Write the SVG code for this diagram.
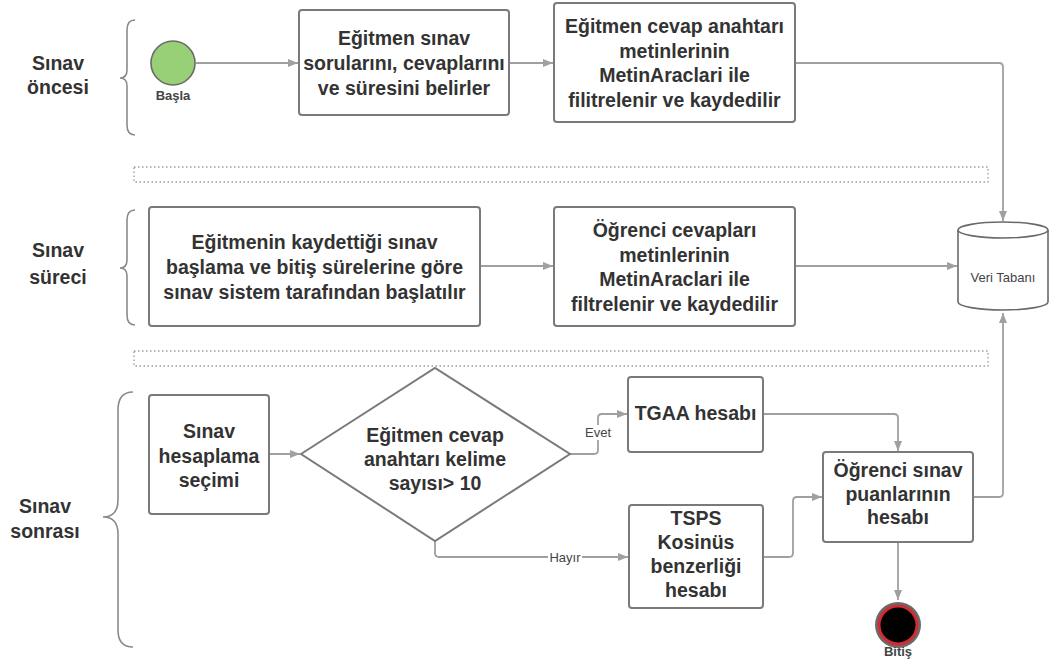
<svg xmlns="http://www.w3.org/2000/svg" width="1053" height="666" viewBox="0 0 1053 666">
  <style>
    .box { fill: #ffffff; stroke: #7a7a7a; stroke-width: 2; }
    .t { font-family: "Liberation Sans", Arial, sans-serif; font-weight: bold; font-size: 19.5px; fill: #333333; text-anchor: middle; }
    .lane { font-family: "Liberation Sans", Arial, sans-serif; font-weight: bold; font-size: 19.5px; fill: #333333; text-anchor: middle; }
    .small { font-family: "Liberation Sans", Arial, sans-serif; font-size: 13px; fill: #444444; text-anchor: middle; }
    .smallb { font-family: "Liberation Sans", Arial, sans-serif; font-weight: bold; font-size: 13px; fill: #444444; text-anchor: middle; }
    .brace { fill: none; stroke: #8a8a8a; stroke-width: 1.6; }
    .band { fill: none; stroke: #9a9a9a; stroke-width: 1.3; stroke-dasharray: 1.5 2.5; }
    .conn { fill: none; stroke: #a0a0a0; stroke-width: 1.8; stroke-linejoin: round; }
  </style>
  <defs>
    <marker id="arrow" viewBox="0 0 10 10" refX="10" refY="5" markerWidth="10" markerHeight="10" markerUnits="userSpaceOnUse" orient="auto">
      <path d="M0,1 L10,5 L0,9 Z" fill="#a0a0a0"/>
    </marker>
  </defs>

  <rect width="1053" height="666" fill="#ffffff"/>

  <!-- lane labels and braces -->
  <g id="lane-oncesi">
    <text class="lane" x="58" y="70">Sınav</text>
    <text class="lane" x="58" y="94">öncesi</text>
    <path class="brace" d="M135,20 Q127,20 127,30 L127,70 Q127,78 120,78 Q127,78 127,86 L127,125 Q127,135 135,135"/>
  </g>
  <g id="lane-sureci">
    <text class="lane" x="58" y="257">Sınav</text>
    <text class="lane" x="58" y="284">süreci</text>
    <path class="brace" d="M135,210 Q127,210 127,220 L127,260 Q127,268 120,268 Q127,268 127,276 L127,315 Q127,325 135,325"/>
  </g>
  <g id="lane-sonrasi">
    <text class="lane" x="45" y="513">Sınav</text>
    <text class="lane" x="45" y="538">sonrası</text>
    <path class="brace" d="M133,392 Q118,392 118,410 L118,500 Q118,517 103,517 Q118,517 118,534 L118,630 Q118,647 133,647"/>
  </g>

  <!-- dotted separators between lanes -->
  <rect class="band" x="134" y="167" width="854" height="15"/>
  <rect class="band" x="134" y="351" width="854" height="15"/>

  <!-- connectors -->
  <g id="connectors">
    <path class="conn" d="M196,63 L298,63" marker-end="url(#arrow)"/>
    <path class="conn" d="M509,63 L553,63" marker-end="url(#arrow)"/>
    <path class="conn" d="M795,63 L999,63 Q1003,63 1003,67 L1003,221" marker-end="url(#arrow)"/>
    <path class="conn" d="M480,266 L553,266" marker-end="url(#arrow)"/>
    <path class="conn" d="M795,266 L957,266" marker-end="url(#arrow)"/>
    <path class="conn" d="M252,454 L267,454" marker-end="url(#arrow)"/>
    <path class="conn" d="M267,454 L300,454" marker-end="url(#arrow)"/>
    <path class="conn" d="M570,454 L594,454 Q598,454 598,450 L598,418 Q598,414 602,414 L627,414" marker-end="url(#arrow)"/>
    <path class="conn" d="M435,541 L435,553 Q435,557 439,557 L628,557" marker-end="url(#arrow)"/>
    <path class="conn" d="M763,414 L894,414 Q898,414 898,418 L898,451" marker-end="url(#arrow)"/>
    <path class="conn" d="M763,557 L789,557 Q793,557 793,553 L793,501 Q793,497 797,497 L822,497" marker-end="url(#arrow)"/>
    <path class="conn" d="M973,497 L999,497 Q1003,497 1003,493 L1003,313" marker-end="url(#arrow)"/>
    <path class="conn" d="M898,542 L898,600" marker-end="url(#arrow)"/>
    <rect x="584" y="425" width="28" height="15" fill="#ffffff"/>
    <text class="small" x="598" y="437">Evet</text>
    <rect x="548" y="550" width="34" height="15" fill="#ffffff"/>
    <text class="small" x="565" y="561.5">Hayır</text>
  </g>

  <!-- nodes -->
  <g id="start">
    <circle cx="173" cy="63" r="22" fill="#97d077" stroke="#6a6a6a" stroke-width="1.6"/>
    <text class="smallb" x="173" y="100">Başla</text>
  </g>

  <g id="belirler">
    <rect class="box" x="299" y="10" width="210" height="105" rx="3"/>
    <text class="t" x="404" y="44.5">Eğitmen sınav</text>
    <text class="t" x="404" y="69.5">sorularını, cevaplarını</text>
    <text class="t" x="404" y="94.5">ve süresini belirler</text>
  </g>

  <g id="anahtar-kayit">
    <rect class="box" x="554" y="3" width="241" height="119" rx="3"/>
    <text class="t" x="674.5" y="33">Eğitmen cevap anahtarı</text>
    <text class="t" x="674.5" y="57.5">metinlerinin</text>
    <text class="t" x="674.5" y="82">MetinAraclari ile</text>
    <text class="t" x="674.5" y="106.5">filitrelenir ve kaydedilir</text>
  </g>

  <g id="sinav-baslat">
    <rect class="box" x="149" y="207" width="331" height="119" rx="3"/>
    <text class="t" x="314.5" y="248.5">Eğitmenin kaydettiği sınav</text>
    <text class="t" x="314.5" y="273.5">başlama ve bitiş sürelerine göre</text>
    <text class="t" x="314.5" y="298.5">sınav sistem tarafından başlatılır</text>
  </g>

  <g id="ogrenci-kayit">
    <rect class="box" x="554" y="207" width="241" height="119" rx="3"/>
    <text class="t" x="674.5" y="237">Öğrenci cevapları</text>
    <text class="t" x="674.5" y="261.5">metinlerinin</text>
    <text class="t" x="674.5" y="286">MetinAraclari ile</text>
    <text class="t" x="674.5" y="310.5">filtrelenir ve kaydedilir</text>
  </g>

  <g id="veri-tabani">
    <path d="M958,230 L958,302 A45,8 0 0 0 1048,302 L1048,230" fill="#ffffff" stroke="#6a6a6a" stroke-width="1.6"/>
    <ellipse cx="1003" cy="230" rx="45" ry="8" fill="#ffffff" stroke="#6a6a6a" stroke-width="1.6"/>
    <text class="small" x="1003" y="281.5">Veri Tabanı</text>
  </g>

  <g id="hesaplama-secimi">
    <rect class="box" x="149" y="395" width="120" height="119" rx="3"/>
    <text class="t" x="209" y="438">Sınav</text>
    <text class="t" x="209" y="462.5">hesaplama</text>
    <text class="t" x="209" y="487">seçimi</text>
  </g>

  <g id="kelime-karar">
    <polygon points="301,454 435,368 570,454 435,541" fill="#ffffff" stroke="#7a7a7a" stroke-width="2"/>
    <text class="t" x="435" y="442">Eğitmen cevap</text>
    <text class="t" x="435" y="466">anahtarı kelime</text>
    <text class="t" x="435" y="490">sayısı&gt; 10</text>
  </g>

  <g id="tgaa">
    <rect class="box" x="628" y="377" width="135" height="75" rx="3"/>
    <text class="t" x="695.5" y="420">TGAA hesabı</text>
  </g>

  <g id="tsps">
    <rect class="box" x="629" y="505" width="134" height="103" rx="3"/>
    <text class="t" x="696" y="525">TSPS</text>
    <text class="t" x="696" y="549">Kosinüs</text>
    <text class="t" x="696" y="573">benzerliği</text>
    <text class="t" x="696" y="597">hesabı</text>
  </g>

  <g id="puan-hesabi">
    <rect class="box" x="823" y="452" width="150" height="90" rx="3"/>
    <text class="t" x="898" y="477">Öğrenci sınav</text>
    <text class="t" x="898" y="500.5">puanlarının</text>
    <text class="t" x="898" y="524">hesabı</text>
  </g>

  <g id="bitis">
    <circle cx="898" cy="625" r="23" fill="#6a6a6a"/>
    <circle cx="898" cy="625" r="19" fill="#000000" stroke="#d12b35" stroke-width="3"/>
    <text class="smallb" x="898" y="656">Bitiş</text>
  </g>
</svg>
